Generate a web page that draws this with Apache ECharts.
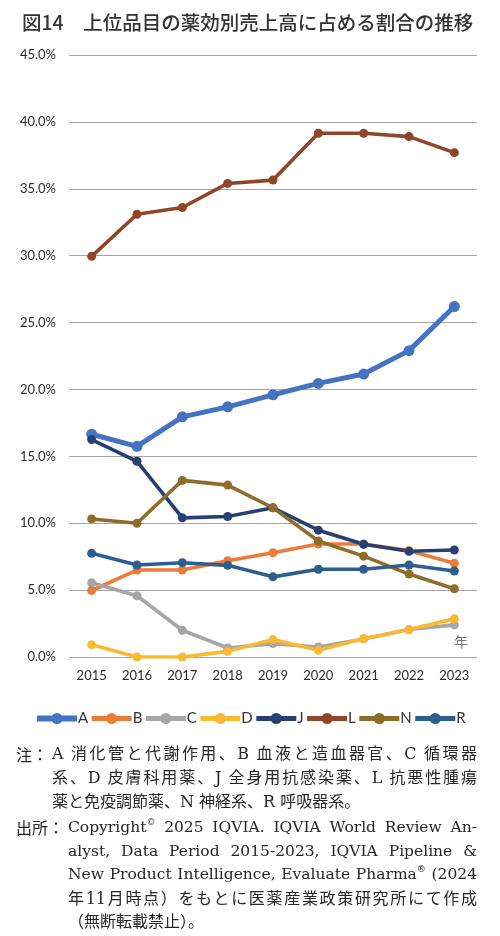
<!DOCTYPE html>
<html>
<head>
<meta charset="utf-8">
<script src="https://cdn.jsdelivr.net/npm/echarts@6/dist/echarts.min.js"></script>
<style>
  html, body { margin: 0; padding: 0; background: #fff; }
  #wrap { position: relative; width: 500px; height: 936px; }
  #chart { position: absolute; left: 0; top: 0; width: 500px; height: 936px; }
  .para { position: absolute; left: 16px; font-family: "DejaVu Serif", "Noto Sans CJK JP", serif; font-size: 16px; color: #262626; }
  .lab { position: absolute; left: 0; top: 0; white-space: nowrap; font-family: "Noto Sans CJK JP"; }
  .lines { position: absolute; top: 0; }
  .j { text-align: justify; text-align-last: justify; }
  .lat { font-size: 15.5px; }
  sup { font-size: 9px; line-height: 0; vertical-align: 7px; }
</style>
</head>
<body>
<div id="wrap">
  <div id="chart"></div>
  <div class="para" style="top:742px; line-height:24px;">
    <span class="lab">注：</span>
    <div class="lines" style="left:36px; width:425px;">
      <div class="j">A 消化管と代謝作用、B 血液と造血器官、C 循環器</div>
      <div class="j">系、D 皮膚科用薬、J 全身用抗感染薬、L 抗悪性腫瘍</div>
      <div>薬と免疫調節薬、N 神経系、R 呼吸器系。</div>
    </div>
  </div>
  <div class="para" style="top:816px; line-height:23.5px;">
    <span class="lab">出所：</span>
    <div class="lines" style="left:52px; width:409px;">
      <div class="j lat">Copyright<sup>©</sup> 2025 IQVIA. IQVIA World Review An-</div>
      <div class="j lat">alyst, Data Period 2015-2023, IQVIA Pipeline &amp;</div>
      <div class="j lat">New Product Intelligence, Evaluate Pharma<sup>®</sup> (2024</div>
      <div class="j">年11月時点）をもとに医薬産業政策研究所にて作成</div>
      <div>（無断転載禁止）。</div>
    </div>
  </div>
</div>
<script>
const years = ['2015','2016','2017','2018','2019','2020','2021','2022','2023'];
const seriesNames = ['A','B','C','D','J','L','N','R'];
const valuesA = [16.65, 15.75, 17.95, 18.7, 19.6, 20.45, 21.15, 22.9, 26.2];
const valuesB = [4.97, 6.5, 6.5, 7.2, 7.8, 8.45, 8.45, 7.95, 7.0];
const valuesC = [5.55, 4.58, 2.0, 0.67, 1.0, 0.75, 1.35, 2.05, 2.4];
const valuesD = [0.92, 0.0, 0.0, 0.42, 1.3, 0.5, 1.37, 2.05, 2.85];
const valuesJ = [16.25, 14.63, 10.4, 10.5, 11.15, 9.48, 8.43, 7.9, 8.0];
const valuesL = [29.95, 33.1, 33.6, 35.4, 35.65, 39.15, 39.15, 38.9, 37.7];
const valuesN = [10.32, 10.0, 13.2, 12.85, 11.15, 8.67, 7.54, 6.2, 5.1];
const valuesR = [7.75, 6.88, 7.05, 6.85, 5.99, 6.56, 6.56, 6.88, 6.43];
const yTicks = { min: 0, max: 45, interval: 5 };

const colors = ['#4473C3','#EC7C35','#A6A6A6','#F9BA32','#283F74','#8F4627','#8E6D2B','#2C5E8F'];
const allValues = [valuesA, valuesB, valuesC, valuesD, valuesJ, valuesL, valuesN, valuesR];

const chart = echarts.init(document.getElementById('chart'), null, { renderer: 'canvas' });

const series = seriesNames.map((name, i) => {
  const isA = name === 'A';
  return {
    name: name,
    type: 'line',
    data: allValues[i],
    symbol: 'circle',
    symbolSize: isA ? 11 : 9,
    lineStyle: { width: isA ? 5 : 3.6, color: colors[i] },
    itemStyle: { color: colors[i] },
    emphasis: { disabled: true },
    animation: false
  };
});

const legendData = seriesNames.map(n => ({
  name: n,
  lineStyle: { width: n === 'A' ? 6 : 5 }
}));

chart.setOption({
  animation: false,
  color: colors,
  title: {
    text: '図14　上位品目の薬効別売上高に占める割合の推移',
    left: 17,
    top: 8,
    textStyle: { fontFamily: 'Noto Sans CJK JP', fontSize: 19.5, fontWeight: 500, color: '#333' }
  },
  grid: { left: 69, right: 23, top: 55, bottom: 279 },
  legend: {
    data: legendData,
    left: 29,
    top: 706,
    itemWidth: 40,
    itemHeight: 14,
    itemGap: 1,
    textStyle: { fontFamily: 'Lato', fontSize: 15, color: '#333', padding: [0, 0, 0, -4] }
  },
  xAxis: {
    type: 'category',
    data: years,
    boundaryGap: true,
    axisLine: { show: false },
    axisTick: { show: false },
    axisLabel: { margin: 12, fontFamily: 'Lato', fontSize: 13, color: '#2b2b2b' }
  },
  yAxis: {
    type: 'value',
    min: yTicks.min,
    max: yTicks.max,
    interval: yTicks.interval,
    axisLine: { show: false },
    axisTick: { show: false },
    splitLine: { lineStyle: { color: '#a6a6a6', width: 1.2 } },
    axisLabel: {
      margin: 13,
      fontFamily: 'Lato',
      fontSize: 13,
      color: '#2b2b2b',
      formatter: v => v.toFixed(1) + '%'
    }
  },
  graphic: [
    {
      type: 'text',
      left: 454,
      top: 635,
      style: { text: '年', fontFamily: 'Noto Sans CJK JP', fontSize: 14, fill: '#7a7a7a' }
    }
  ],
  series: series
});
</script>
</body>
</html>
